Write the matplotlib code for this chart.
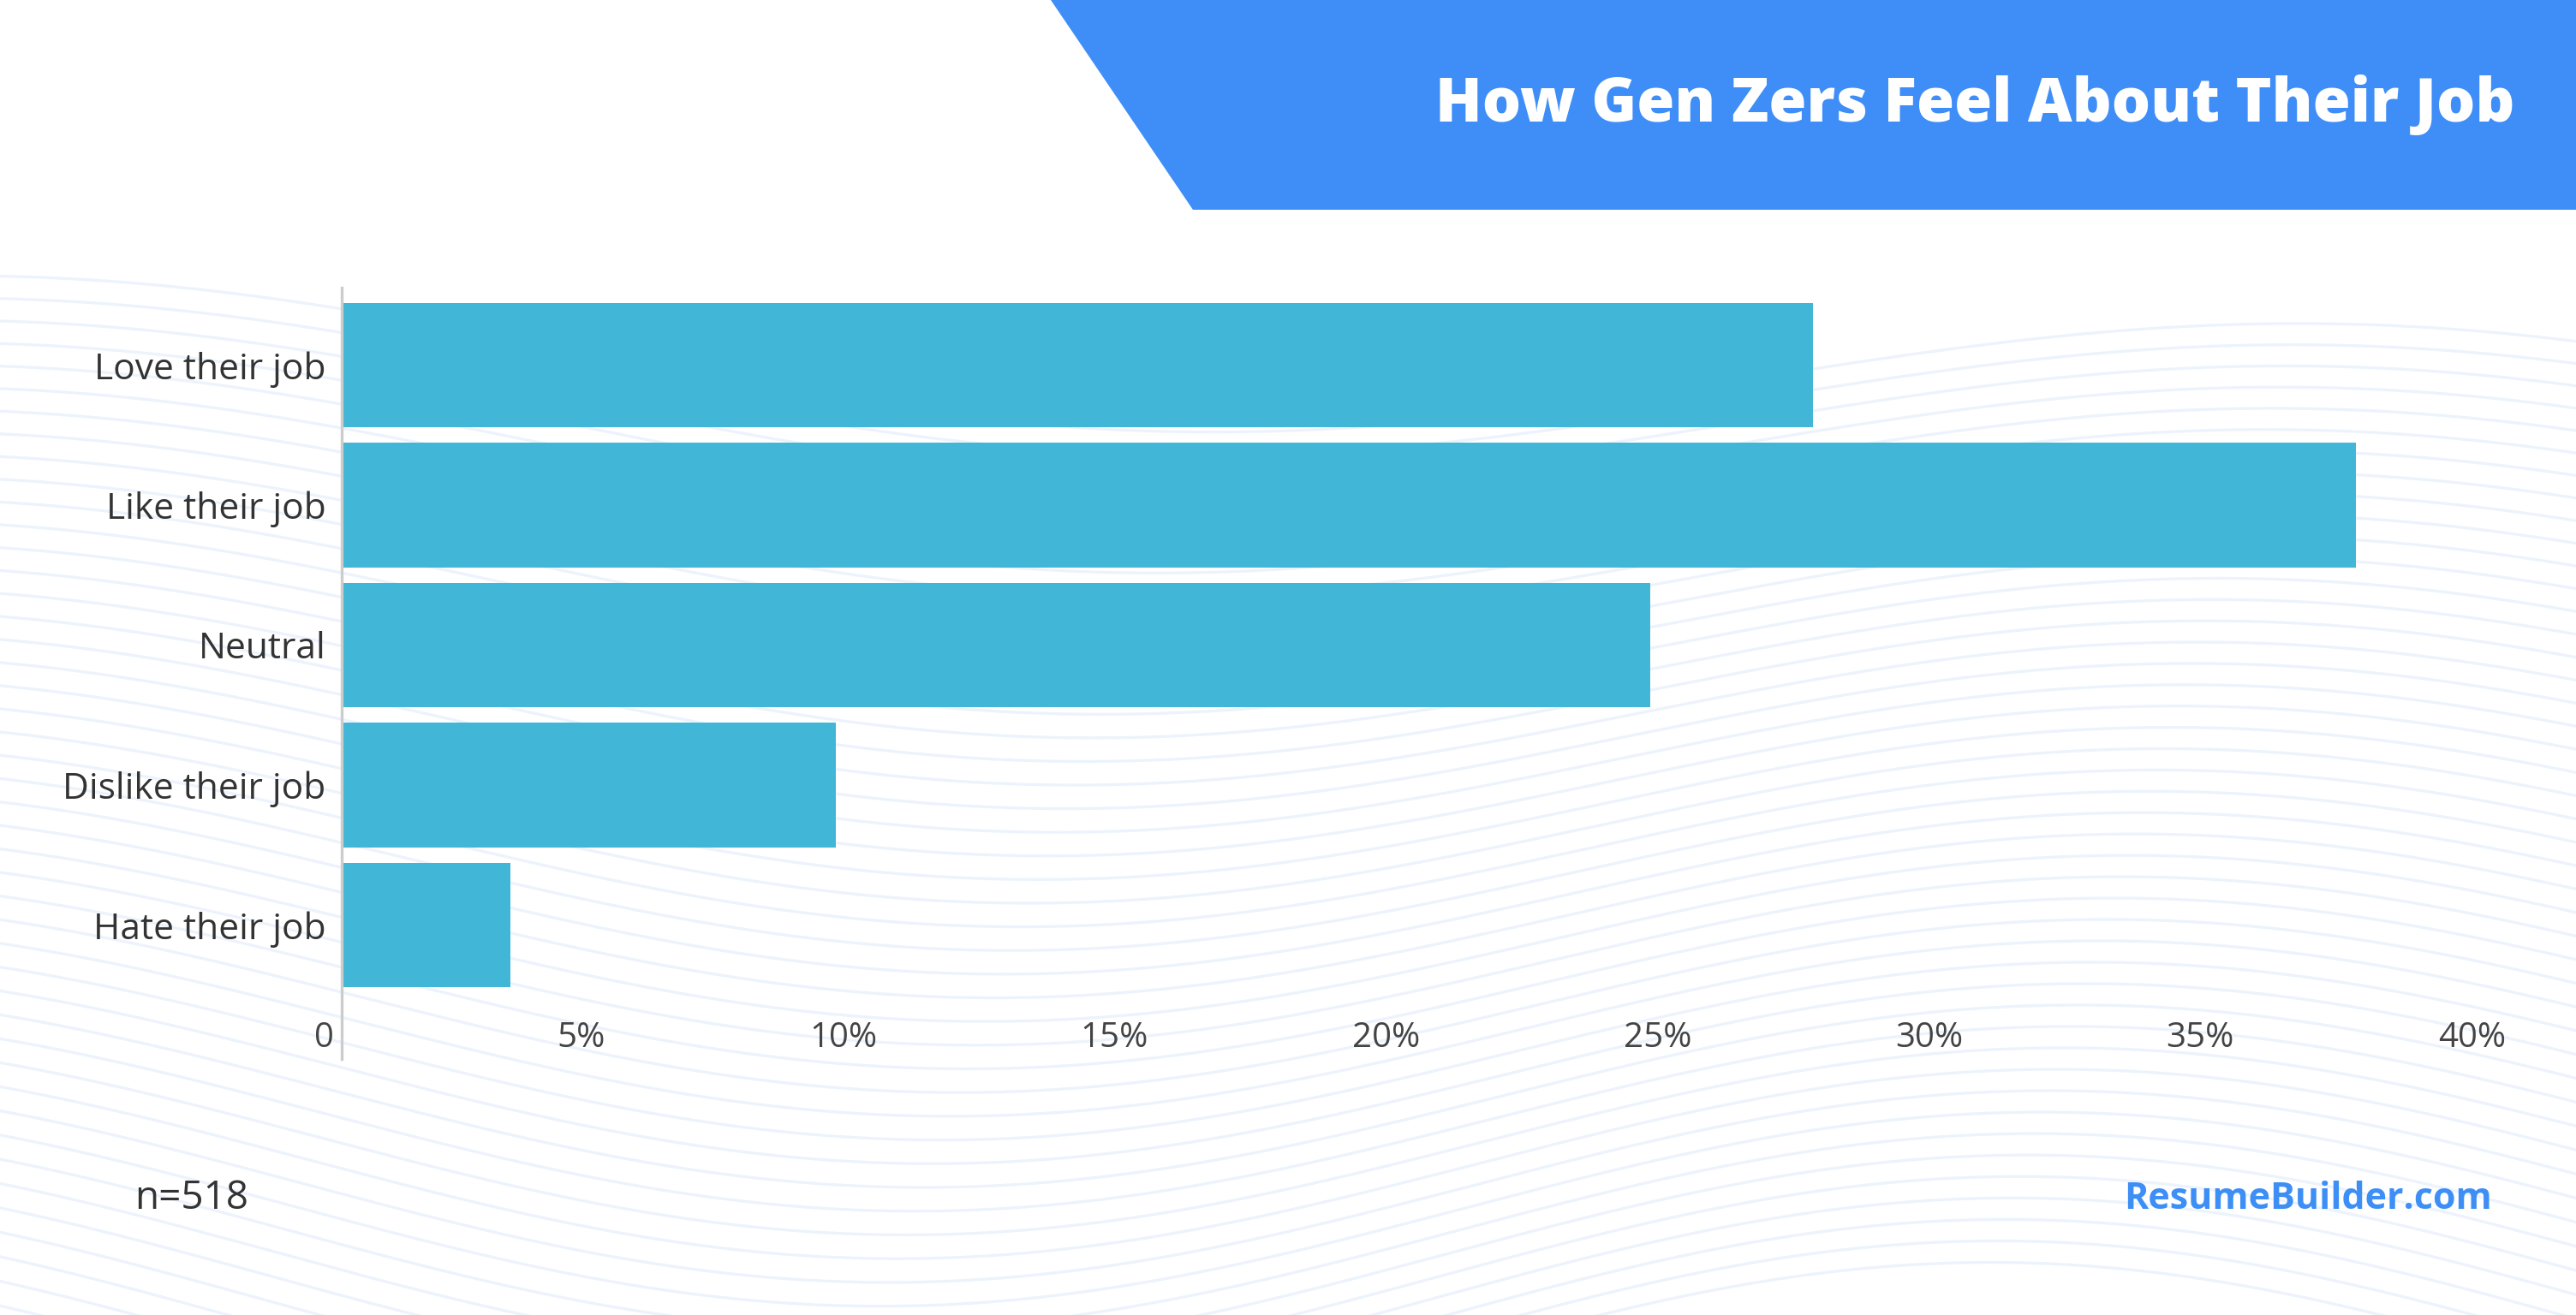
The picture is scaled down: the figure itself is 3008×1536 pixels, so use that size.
import numpy as np
import matplotlib
matplotlib.use("Agg")
import matplotlib.pyplot as plt
import matplotlib.transforms as mtransforms
from matplotlib.patches import Polygon
from matplotlib.ticker import FuncFormatter

categories = ["Love their job", "Like their job", "Neutral", "Dislike their job", "Hate their job"]
values = [27.1, 37.1, 24.1, 9.1, 3.1]
xticks = [0, 5, 10, 15, 20, 25, 30, 35, 40]
title = "How Gen Zers Feel About Their Job"
note = "n=518"
brand = "ResumeBuilder.com"

W, H = 3008, 1536
DPI = 200
fig = plt.figure(figsize=(W / DPI, H / DPI), dpi=DPI)
fig.patch.set_facecolor("white")

# decorative background waves
bg = fig.add_axes([0, 0, 1, 1], zorder=0)
bg.set_xlim(0, 1)
bg.set_ylim(0, 1)
bg.axis("off")
xs = np.linspace(0, 1, 400)
for i in range(45):
    f = i / 44
    base = 0.70 - f * 0.74
    amp = 0.05 + 0.03 * f
    yy = base + amp * np.sin(2 * np.pi * (xs * 1.1 + 0.25 + 0.15 * f)) + 0.04 * (1 - xs) * (1 - f)
    bg.plot(xs, yy, color="#e8f1fc", lw=1.2, alpha=0.8, zorder=0)

# banner
banner = Polygon([(1227 / W, 1), (1, 1), (1, 1 - 245 / H), (1393 / W, 1 - 245 / H)],
                 closed=True, transform=fig.transFigure, facecolor="#3F8EF7", edgecolor="none", zorder=1)
fig.patches.append(banner)
fig.text(2937 / W, 1 - 123 / H, title, ha="right", va="center", color="white",
         fontsize=25.7, fontweight=800, family=["Open Sans", "DejaVu Sans"], zorder=2)

left, right = 399 / W, 2935 / W
top, bottom = 1 - 345 / H, 1 - 1162 / H
ax = fig.add_axes([left, bottom, right - left, top - bottom], zorder=3)
ax.patch.set_alpha(0)
y = np.arange(len(categories))
ax.barh(y, values, height=0.89, color="#42B6D6", zorder=3)
ax.set_ylim(len(categories) - 0.5, -0.5)
ax.set_xlim(0, 40)
ax.set_yticks(y)
ax.set_yticklabels(categories, family=["Open Sans", "DejaVu Sans"], fontsize=15.3, color="#333333")
ax.set_xticks(xticks)
ax.xaxis.set_major_formatter(FuncFormatter(lambda v, p: "0" if v == 0 else f"{int(v)}%"))
for lab in ax.get_xticklabels():
    lab.set_family(["Open Sans", "DejaVu Sans"])
    lab.set_fontsize(14.5)
    lab.set_color("#444444")
    lab.set_ha("right")
ax.tick_params(axis="x", length=0, pad=11)
ax.tick_params(axis="y", length=0, pad=6.6)
for s in ax.spines.values():
    s.set_visible(False)
offset = mtransforms.ScaledTranslation(-9 / DPI, 0, fig.dpi_scale_trans)
for lab in ax.get_xticklabels():
    lab.set_transform(lab.get_transform() + offset)

# vertical zero line extending below axis
fig.add_artist(plt.Line2D([left, left], [1 - 336 / H, 1 - 1237 / H], transform=fig.transFigure,
                          color="#cccccc", lw=1.2, zorder=4))

fig.text(157 / W, 1 - 1400 / H, note, ha="left", va="center", color="#333333",
         fontsize=16.5, fontweight="medium", family=["Open Sans", "DejaVu Sans"], zorder=5)
fig.text(2910 / W, 1 - 1400 / H, brand, ha="right", va="center", color="#3D8EF5",
         fontsize=15.5, fontweight="bold", family=["Open Sans", "DejaVu Sans"], zorder=5)

fig.savefig("out.png", dpi=DPI, facecolor="white")
